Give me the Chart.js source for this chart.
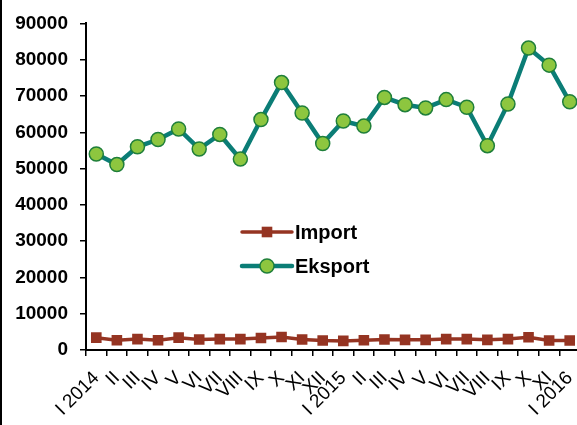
<!DOCTYPE html>
<html lang="en">
<head>
    <meta charset="UTF-8">
    <title>Import / Eksport</title>
    <script src="https://cdn.jsdelivr.net/npm/chart.js"></script>
    <style>
        html, body { margin: 0; padding: 0; background: #fff; overflow: hidden; }
        #wrap { width: 577px; height: 425px; overflow: hidden; }
    </style>
</head>
<body>
    <!-- the original plot runs slightly past its right edge, so the canvas is a bit wider and clipped -->
    <div id="wrap"><canvas id="chartCanvas" width="597" height="425"></canvas></div>

    <script>
        // month labels as printed under the axis
        const months = [
            'I 2014', 'II', 'III', 'IV', 'V', 'VI', 'VII', 'VIII', 'IX', 'X', 'XI', 'XII',
            'I 2015', 'II', 'III', 'IV', 'V', 'VI', 'VII', 'VIII', 'IX', 'X', 'XI',
            'I 2016'
        ];
        const importValues = [
            3400, 2700, 3000, 2700, 3400, 2900, 3000, 3000, 3300, 3600, 2900, 2600,
            2500, 2700, 2900, 2800, 2800, 3000, 3000, 2800, 3000, 3500, 2600,
            2600
        ];
        const eksportValues = [
            54000, 51100, 56000, 58000, 60900, 55400, 59400, 52600, 63500, 73700, 65300, 56900,
            63100, 61700, 69600, 67600, 66700, 69000, 66900, 56300, 67800, 83200, 78500,
            68400
        ];
        const yTicks = [0, 10000, 20000, 30000, 40000, 50000, 60000, 70000, 80000, 90000];

        const FONT = "'Liberation Sans', Arial, sans-serif";

        // white page + the thin frame line on the left edge
        const background = {
            id: 'background',
            beforeDraw(chart) {
                const c = chart.ctx;
                c.save();
                c.fillStyle = '#fff';
                c.fillRect(0, 0, chart.width, chart.height);
                c.fillStyle = '#000';
                c.fillRect(0, 0, 2, chart.height);
                c.restore();
            }
        };

        // legend sits inside the plot, under the curves
        const inlineLegend = {
            id: 'inlineLegend',
            afterDatasetsDraw(chart) {
                const c = chart.ctx;
                const x0 = 242, x1 = 292;
                chart.data.datasets.forEach((ds, i) => {
                    const y = 232 + i * 34;
                    const xm = (x0 + x1) / 2;
                    c.save();
                    c.strokeStyle = ds.borderColor;
                    c.lineWidth = ds.borderWidth;
                    c.lineCap = 'round';
                    c.beginPath();
                    c.moveTo(x0, y);
                    c.lineTo(x1, y);
                    c.stroke();
                    c.fillStyle = ds.pointBackgroundColor;
                    c.strokeStyle = ds.pointBorderColor;
                    c.lineWidth = ds.pointBorderWidth;
                    if (ds.pointStyle === 'rect') {
                        const s = ds.pointRadius * Math.SQRT1_2;
                        c.fillRect(xm - s, y - s, 2 * s, 2 * s);
                    } else {
                        c.beginPath();
                        c.arc(xm, y, ds.pointRadius, 0, Math.PI * 2);
                        c.fill();
                        c.stroke();
                    }
                    c.fillStyle = '#000';
                    c.font = 'bold 20px ' + FONT;
                    c.textBaseline = 'middle';
                    c.textAlign = 'left';
                    c.fillText(ds.label, x1 + 3, y + 1);
                    c.restore();
                });
            }
        };

        const ctx = document.getElementById('chartCanvas').getContext('2d');
        const chart = new Chart(ctx, {
            type: 'line',
            data: {
                labels: months,
                datasets: [{
                    label: 'Import',
                    data: importValues,
                    borderColor: '#953422',
                    borderWidth: 3.5,
                    pointStyle: 'rect',
                    pointRadius: 7.5,
                    pointBorderWidth: 0,
                    pointBackgroundColor: '#953422',
                    pointBorderColor: '#953422',
                    tension: 0
                }, {
                    label: 'Eksport',
                    data: eksportValues,
                    borderColor: '#0b7d76',
                    borderWidth: 4.5,
                    pointStyle: 'circle',
                    pointRadius: 7,
                    pointBorderWidth: 1.5,
                    pointBackgroundColor: '#8dc63f',
                    pointBorderColor: '#1f7f3a',
                    tension: 0
                }]
            },
            options: {
                responsive: false,
                animation: false,
                layout: { padding: { top: 12, right: 0, left: 0, bottom: 0 } },
                plugins: {
                    legend: { display: false },
                    tooltip: { enabled: false }
                },
                scales: {
                    x: {
                        offset: true,
                        grid: {
                            offset: true,
                            drawOnChartArea: false,
                            tickLength: 6,
                            color: '#000',
                            lineWidth: 1.5
                        },
                        border: { color: '#000', width: 2 },
                        ticks: {
                            autoSkip: false,
                            minRotation: 45,
                            maxRotation: 45,
                            color: '#000',
                            padding: 11,
                            font: { family: FONT, size: 19 }
                        },
                        afterFit(scale) { scale.height = 75; }
                    },
                    y: {
                        min: 0,
                        max: 90000,
                        afterBuildTicks(scale) { scale.ticks = yTicks.map(v => ({ value: v })); },
                        grid: {
                            drawOnChartArea: false,
                            tickLength: 6,
                            color: '#000',
                            lineWidth: 1.5
                        },
                        border: { color: '#000', width: 2 },
                        ticks: {
                            color: '#000',
                            padding: 12,
                            callback: v => String(v),
                            font: { family: FONT, size: 19, weight: 'bold' }
                        },
                        afterFit(scale) { scale.width = 86; }
                    }
                }
            },
            plugins: [background, inlineLegend]
        });
    </script>
</body>
</html>
